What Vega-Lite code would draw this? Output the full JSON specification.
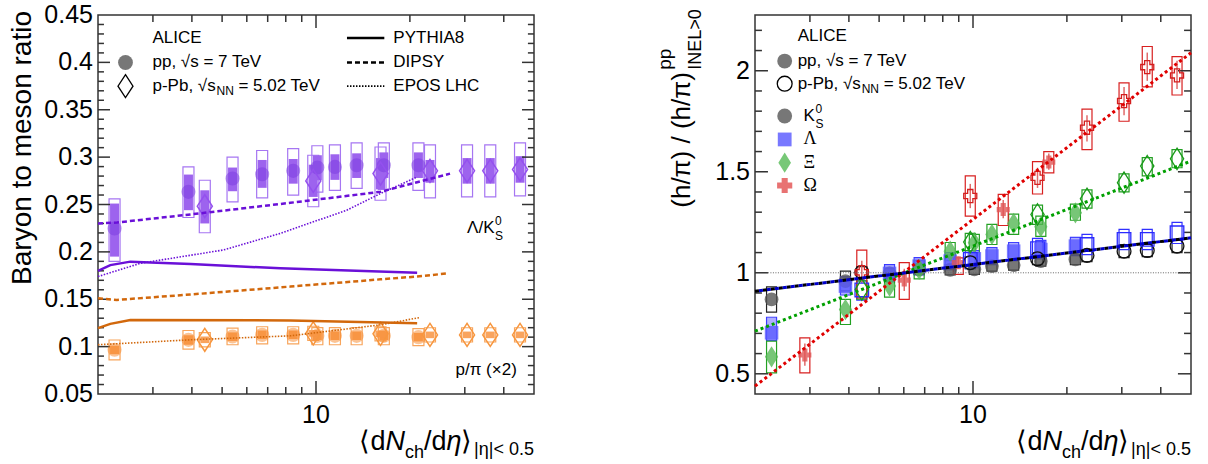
{
"$schema": "https://vega.github.io/schema/vega-lite/v6.json",
"background": "white",
"padding": {"left": 8, "top": 2, "right": 0, "bottom": 0},
"config": {"view": {"stroke": "#333333", "strokeWidth": 1.5}, "font": "Liberation Sans"},
"spacing": 221,
"bounds": "flush",
"resolve": {"scale": {"x": "independent", "y": "independent", "fill": "independent", "stroke": "independent", "shape": "independent", "size": "independent"}},
"datasets": {
"TX": [{"v":3},{"v":4},{"v":5},{"v":6},{"v":7},{"v":8},{"v":9},{"v":10},{"v":20},{"v":30},{"v":40}],
"TYL": [{"v":0.06},{"v":0.07},{"v":0.08},{"v":0.09},{"v":0.1},{"v":0.11},{"v":0.12},{"v":0.13},{"v":0.14},{"v":0.15},{"v":0.16},{"v":0.17},{"v":0.18},{"v":0.19},{"v":0.2},{"v":0.21},{"v":0.22},{"v":0.23},{"v":0.24},{"v":0.25},{"v":0.26},{"v":0.27},{"v":0.28},{"v":0.29},{"v":0.3},{"v":0.31},{"v":0.32},{"v":0.33},{"v":0.34},{"v":0.35},{"v":0.36},{"v":0.37},{"v":0.38},{"v":0.39},{"v":0.4},{"v":0.41},{"v":0.42},{"v":0.43},{"v":0.44}],
"TYR": [{"v":0.5},{"v":0.6},{"v":0.7},{"v":0.8},{"v":0.9},{"v":1},{"v":1.1},{"v":1.2},{"v":1.3},{"v":1.4},{"v":1.5},{"v":1.6},{"v":1.7},{"v":1.8},{"v":1.9},{"v":2},{"v":2.1},{"v":2.2}],
"YLAB_L": [{"v":0.05,"t":"0.05"},{"v":0.1,"t":"0.1"},{"v":0.15,"t":"0.15"},{"v":0.2,"t":"0.2"},{"v":0.25,"t":"0.25"},{"v":0.3,"t":"0.3"},{"v":0.35,"t":"0.35"},{"v":0.4,"t":"0.4"},{"v":0.45,"t":"0.45"}],
"YLAB_R": [{"v":0.5,"t":"0.5"},{"v":1,"t":"1"},{"v":1.5,"t":"1.5"},{"v":2,"t":"2"}],
"L": [
{"r":"LK","c":"pp","x":2.26,"y":0.2247,"ulo":0.195,"uhi":0.251,"tlo":0.19,"thi":0.256},
{"r":"LK","c":"pp","x":3.9,"y":0.2634,"ulo":0.244,"uhi":0.2816,"tlo":0.2363,"thi":0.2897},
{"r":"LK","c":"pp","x":5.4,"y":0.2774,"ulo":0.264,"uhi":0.289,"tlo":0.2528,"thi":0.3},
{"r":"LK","c":"pp","x":6.72,"y":0.2819,"ulo":0.2676,"uhi":0.297,"tlo":0.257,"thi":0.307},
{"r":"LK","c":"pp","x":8.45,"y":0.2855,"ulo":0.272,"uhi":0.298,"tlo":0.26,"thi":0.309},
{"r":"LK","c":"pp","x":10.1,"y":0.289,"ulo":0.2756,"uhi":0.302,"tlo":0.263,"thi":0.312},
{"r":"LK","c":"pp","x":11.5,"y":0.2897,"ulo":0.276,"uhi":0.303,"tlo":0.265,"thi":0.313},
{"r":"LK","c":"pp","x":13.5,"y":0.2914,"ulo":0.278,"uhi":0.304,"tlo":0.267,"thi":0.315},
{"r":"LK","c":"pp","x":16.5,"y":0.2914,"ulo":0.278,"uhi":0.305,"tlo":0.266,"thi":0.315},
{"r":"LK","c":"pp","x":21.3,"y":0.2914,"ulo":0.278,"uhi":0.305,"tlo":0.265,"thi":0.315},
{"r":"LK","c":"pPb","x":4.4,"y":0.2482,"ulo":0.23,"uhi":0.265,"tlo":0.2202,"thi":0.2756},
{"r":"LK","c":"pPb","x":9.8,"y":0.2749,"ulo":0.258,"uhi":0.292,"tlo":0.2476,"thi":0.302},
{"r":"LK","c":"pPb","x":16.1,"y":0.2826,"ulo":0.266,"uhi":0.299,"tlo":0.2545,"thi":0.3107},
{"r":"LK","c":"pPb","x":23.2,"y":0.2855,"ulo":0.273,"uhi":0.297,"tlo":0.257,"thi":0.313},
{"r":"LK","c":"pPb","x":30.5,"y":0.2855,"ulo":0.272,"uhi":0.299,"tlo":0.258,"thi":0.313},
{"r":"LK","c":"pPb","x":36.2,"y":0.2855,"ulo":0.272,"uhi":0.299,"tlo":0.258,"thi":0.313},
{"r":"LK","c":"pPb","x":45.1,"y":0.287,"ulo":0.273,"uhi":0.301,"tlo":0.259,"thi":0.315},
{"r":"ppi","c":"pp","x":2.26,"y":0.0967,"ulo":0.092,"uhi":0.101,"tlo":0.086,"thi":0.107},
{"r":"ppi","c":"pp","x":3.9,"y":0.1072,"ulo":0.102,"uhi":0.112,"tlo":0.0974,"thi":0.117},
{"r":"ppi","c":"pp","x":5.4,"y":0.1107,"ulo":0.106,"uhi":0.115,"tlo":0.102,"thi":0.1195},
{"r":"ppi","c":"pp","x":6.72,"y":0.1124,"ulo":0.108,"uhi":0.117,"tlo":0.103,"thi":0.121},
{"r":"ppi","c":"pp","x":8.45,"y":0.1124,"ulo":0.108,"uhi":0.117,"tlo":0.103,"thi":0.121},
{"r":"ppi","c":"pp","x":10.1,"y":0.1114,"ulo":0.107,"uhi":0.116,"tlo":0.102,"thi":0.12},
{"r":"ppi","c":"pp","x":11.5,"y":0.1114,"ulo":0.107,"uhi":0.116,"tlo":0.102,"thi":0.12},
{"r":"ppi","c":"pp","x":13.5,"y":0.1114,"ulo":0.107,"uhi":0.116,"tlo":0.102,"thi":0.12},
{"r":"ppi","c":"pp","x":16.5,"y":0.1114,"ulo":0.107,"uhi":0.116,"tlo":0.102,"thi":0.12},
{"r":"ppi","c":"pp","x":21.3,"y":0.11,"ulo":0.1055,"uhi":0.1145,"tlo":0.101,"thi":0.119},
{"r":"ppi","c":"pPb","x":4.4,"y":0.1072,"ulo":0.1037,"uhi":0.1107,"tlo":0.0997,"thi":0.1147},
{"r":"ppi","c":"pPb","x":9.8,"y":0.114,"ulo":0.1105,"uhi":0.1175,"tlo":0.1065,"thi":0.1215},
{"r":"ppi","c":"pPb","x":16.1,"y":0.1135,"ulo":0.11,"uhi":0.117,"tlo":0.106,"thi":0.121},
{"r":"ppi","c":"pPb","x":23.2,"y":0.1124,"ulo":0.1089,"uhi":0.1159,"tlo":0.1049,"thi":0.1199},
{"r":"ppi","c":"pPb","x":30.5,"y":0.1124,"ulo":0.1089,"uhi":0.1159,"tlo":0.1049,"thi":0.1199},
{"r":"ppi","c":"pPb","x":36.2,"y":0.1124,"ulo":0.1089,"uhi":0.1159,"tlo":0.1049,"thi":0.1199},
{"r":"ppi","c":"pPb","x":45.1,"y":0.1124,"ulo":0.1089,"uhi":0.1159,"tlo":0.1049,"thi":0.1199}
],
"M": [
{"r":"LK","m":"PYTHIA8","x":2.0,"y":0.18},{"r":"LK","m":"PYTHIA8","x":2.19,"y":0.186},{"r":"LK","m":"PYTHIA8","x":2.54,"y":0.1897},{"r":"LK","m":"PYTHIA8","x":3.96,"y":0.1872},{"r":"LK","m":"PYTHIA8","x":7.68,"y":0.1826},{"r":"LK","m":"PYTHIA8","x":21.1,"y":0.178},
{"r":"LK","m":"DIPSY","x":2.0,"y":0.23},{"r":"LK","m":"DIPSY","x":2.3,"y":0.231},{"r":"LK","m":"DIPSY","x":3.96,"y":0.2395},{"r":"LK","m":"DIPSY","x":8.28,"y":0.2518},{"r":"LK","m":"DIPSY","x":16.1,"y":0.2634},{"r":"LK","m":"DIPSY","x":21.1,"y":0.2735},{"r":"LK","m":"DIPSY","x":26.9,"y":0.2826},
{"r":"LK","m":"EPOS","x":2.0,"y":0.174},{"r":"LK","m":"EPOS","x":2.74,"y":0.188},{"r":"LK","m":"EPOS","x":5.05,"y":0.202},{"r":"LK","m":"EPOS","x":7.68,"y":0.2195},{"r":"LK","m":"EPOS","x":12.55,"y":0.244},{"r":"LK","m":"EPOS","x":16.1,"y":0.2616},{"r":"LK","m":"EPOS","x":21.1,"y":0.279},
{"r":"ppi","m":"PYTHIA8","x":2.0,"y":0.1195},{"r":"ppi","m":"PYTHIA8","x":2.19,"y":0.124},{"r":"ppi","m":"PYTHIA8","x":2.54,"y":0.1282},{"r":"ppi","m":"PYTHIA8","x":8.28,"y":0.1276},{"r":"ppi","m":"PYTHIA8","x":21.1,"y":0.1247},
{"r":"ppi","m":"DIPSY","x":2.0,"y":0.151},{"r":"ppi","m":"DIPSY","x":2.3,"y":0.1493},{"r":"ppi","m":"DIPSY","x":3.96,"y":0.155},{"r":"ppi","m":"DIPSY","x":8.28,"y":0.1634},{"r":"ppi","m":"DIPSY","x":16.1,"y":0.171},{"r":"ppi","m":"DIPSY","x":21.1,"y":0.174},{"r":"ppi","m":"DIPSY","x":26.6,"y":0.1774},
{"r":"ppi","m":"EPOS","x":2.0,"y":0.102},{"r":"ppi","m":"EPOS","x":3.96,"y":0.1072},{"r":"ppi","m":"EPOS","x":8.28,"y":0.1114},{"r":"ppi","m":"EPOS","x":16.1,"y":0.123},{"r":"ppi","m":"EPOS","x":21.5,"y":0.1307}
],
"R": [
{"s":"K","c":"pp","x":2.26,"y":0.868,"lo":0.805,"hi":0.93},
{"s":"K","c":"pp","x":3.9,"y":0.959,"lo":0.91,"hi":1.008},
{"s":"K","c":"pp","x":5.4,"y":0.997,"lo":0.972,"hi":1.022},
{"s":"K","c":"pp","x":6.72,"y":1.017,"lo":0.992,"hi":1.042},
{"s":"K","c":"pp","x":8.45,"y":1.015,"lo":0.99,"hi":1.04},
{"s":"K","c":"pp","x":10.1,"y":1.017,"lo":0.992,"hi":1.042},
{"s":"K","c":"pp","x":11.5,"y":1.033,"lo":1.008,"hi":1.058},
{"s":"K","c":"pp","x":13.5,"y":1.038,"lo":1.013,"hi":1.063},
{"s":"K","c":"pp","x":16.5,"y":1.058,"lo":1.033,"hi":1.083},
{"s":"K","c":"pp","x":21.3,"y":1.066,"lo":1.04,"hi":1.092},
{"s":"L","c":"pp","x":2.26,"y":0.703,"lo":0.665,"hi":0.78},
{"s":"L","c":"pp","x":3.9,"y":0.934,"lo":0.89,"hi":0.98},
{"s":"L","c":"pp","x":5.4,"y":0.997,"lo":0.955,"hi":1.04},
{"s":"L","c":"pp","x":6.72,"y":1.033,"lo":0.99,"hi":1.075},
{"s":"L","c":"pp","x":8.45,"y":1.058,"lo":1.015,"hi":1.1},
{"s":"L","c":"pp","x":10.1,"y":1.069,"lo":1.025,"hi":1.11},
{"s":"L","c":"pp","x":11.5,"y":1.083,"lo":1.04,"hi":1.125},
{"s":"L","c":"pp","x":13.5,"y":1.107,"lo":1.06,"hi":1.15},
{"s":"L","c":"pp","x":16.5,"y":1.115,"lo":1.07,"hi":1.16},
{"s":"L","c":"pp","x":21.3,"y":1.132,"lo":1.085,"hi":1.175},
{"s":"X","c":"pp","x":2.26,"y":0.584,"lo":0.505,"hi":0.662},
{"s":"X","c":"pp","x":3.9,"y":0.818,"lo":0.744,"hi":0.868},
{"s":"X","c":"pp","x":5.4,"y":0.934,"lo":0.88,"hi":0.96},
{"s":"X","c":"pp","x":6.72,"y":1.017,"lo":0.97,"hi":1.06},
{"s":"X","c":"pp","x":8.45,"y":1.107,"lo":1.06,"hi":1.15},
{"s":"X","c":"pp","x":10.1,"y":1.149,"lo":1.1,"hi":1.19},
{"s":"X","c":"pp","x":11.5,"y":1.19,"lo":1.14,"hi":1.24},
{"s":"X","c":"pp","x":13.5,"y":1.244,"lo":1.19,"hi":1.29},
{"s":"X","c":"pp","x":16.5,"y":1.228,"lo":1.18,"hi":1.28},
{"s":"X","c":"pp","x":21.3,"y":1.297,"lo":1.26,"hi":1.34},
{"s":"O","c":"pp","x":2.89,"y":0.593,"lo":0.505,"hi":0.678,"elo":0.54,"ehi":0.65},
{"s":"O","c":"pp","x":6.02,"y":0.964,"lo":0.868,"hi":1.05,"elo":0.91,"ehi":1.02},
{"s":"O","c":"pp","x":8.97,"y":1.05,"lo":0.992,"hi":1.074,"elo":1.02,"ehi":1.08},
{"s":"O","c":"pp","x":12.5,"y":1.313,"lo":1.234,"hi":1.388,"elo":1.27,"ehi":1.36},
{"s":"O","c":"pp","x":17.5,"y":1.548,"lo":1.495,"hi":1.6,"elo":1.51,"ehi":1.59},
{"s":"K","c":"pPb","x":4.4,"y":1.003,"lo":0.975,"hi":1.03},
{"s":"K","c":"pPb","x":9.8,"y":1.05,"lo":1.02,"hi":1.08},
{"s":"K","c":"pPb","x":16.1,"y":1.069,"lo":1.04,"hi":1.1},
{"s":"K","c":"pPb","x":23.2,"y":1.086,"lo":1.055,"hi":1.115},
{"s":"K","c":"pPb","x":30.5,"y":1.107,"lo":1.075,"hi":1.14},
{"s":"K","c":"pPb","x":36.2,"y":1.11,"lo":1.08,"hi":1.14},
{"s":"K","c":"pPb","x":45.1,"y":1.132,"lo":1.1,"hi":1.165},
{"s":"L","c":"pPb","x":4.4,"y":0.915,"lo":0.865,"hi":0.96},
{"s":"L","c":"pPb","x":9.8,"y":1.066,"lo":1.02,"hi":1.11},
{"s":"L","c":"pPb","x":16.1,"y":1.119,"lo":1.07,"hi":1.17},
{"s":"L","c":"pPb","x":23.2,"y":1.14,"lo":1.09,"hi":1.19},
{"s":"L","c":"pPb","x":30.5,"y":1.165,"lo":1.115,"hi":1.215},
{"s":"L","c":"pPb","x":36.2,"y":1.165,"lo":1.115,"hi":1.215},
{"s":"L","c":"pPb","x":45.1,"y":1.198,"lo":1.145,"hi":1.25},
{"s":"X","c":"pPb","x":4.4,"y":0.917,"lo":0.87,"hi":0.96},
{"s":"X","c":"pPb","x":9.8,"y":1.152,"lo":1.11,"hi":1.195},
{"s":"X","c":"pPb","x":16.1,"y":1.289,"lo":1.24,"hi":1.335},
{"s":"X","c":"pPb","x":23.2,"y":1.366,"lo":1.32,"hi":1.41},
{"s":"X","c":"pPb","x":30.5,"y":1.446,"lo":1.4,"hi":1.49},
{"s":"X","c":"pPb","x":36.2,"y":1.528,"lo":1.48,"hi":1.57},
{"s":"X","c":"pPb","x":45.1,"y":1.564,"lo":1.52,"hi":1.61},
{"s":"O","c":"pPb","x":4.4,"y":1.003,"lo":0.876,"hi":1.112,"elo":0.95,"ehi":1.06},
{"s":"O","c":"pPb","x":9.8,"y":1.38,"lo":1.28,"hi":1.48,"elo":1.32,"ehi":1.44},
{"s":"O","c":"pPb","x":16.1,"y":1.47,"lo":1.39,"hi":1.55,"elo":1.42,"ehi":1.52},
{"s":"O","c":"pPb","x":23.2,"y":1.718,"lo":1.61,"hi":1.81,"elo":1.65,"ehi":1.78},
{"s":"O","c":"pPb","x":30.5,"y":1.85,"lo":1.75,"hi":1.94,"elo":1.78,"ehi":1.92},
{"s":"O","c":"pPb","x":36.2,"y":2.018,"lo":1.92,"hi":2.12,"elo":1.95,"ehi":2.09},
{"s":"O","c":"pPb","x":45.1,"y":1.977,"lo":1.88,"hi":2.07,"elo":1.91,"ehi":2.05}
],
"F": [
{"f":"KL","x":2,"y":0.909},{"f":"KL","x":50,"y":1.173},
{"f":"X","x":2,"y":0.711},{"f":"X","x":50,"y":1.553},
{"f":"O","x":2,"y":0.439},{"f":"O","x":50,"y":2.089}
],
"U": [{"x":2.2,"y":1},{"x":50,"y":1}]
},
"hconcat": [
{
"width": 436, "height": 379,
"layer": [
{"data":{"name":"L"},"mark":{"type":"bar","width":11,"fillOpacity":0,"strokeWidth":1.2},
 "encoding":{
  "x":{"field":"x","type":"quantitative","scale":{"type":"log","domain":[2,50],"nice":false,"padding":0},"axis":null},
  "y":{"field":"tlo","type":"quantitative","scale":{"domain":[0.05,0.45],"nice":false,"zero":false},"axis":null},
  "y2":{"field":"thi"},
  "stroke":{"condition":{"test":"datum.r == 'LK'","value":"#a676f2"},"value":"#f8a55c"}}},
{"data":{"name":"L"},"mark":{"type":"bar","width":9},
 "encoding":{
  "x":{"field":"x","type":"quantitative","axis":null},
  "y":{"field":"ulo","type":"quantitative","axis":null},
  "y2":{"field":"uhi"},
  "fill":{"condition":{"test":"datum.r == 'LK'","value":"#9d63ee"},"value":"#f9a45e"}}},
{"data":{"name":"TX"},"transform":[{"filter":"datum.v != 10"}],"mark":{"type":"rule","stroke":"#333333","strokeWidth":1.5},
 "encoding":{"x":{"field":"v","type":"quantitative","axis":null},"y":{"datum":0.05,"type":"quantitative","axis":null},"y2":{"datum":0.0574}}},
{"data":{"name":"TX"},"transform":[{"filter":"datum.v == 10"}],"mark":{"type":"rule","stroke":"#333333","strokeWidth":1.5},
 "encoding":{"x":{"field":"v","type":"quantitative","axis":null},"y":{"datum":0.05,"type":"quantitative","axis":null},"y2":{"datum":0.0637}}},
{"data":{"name":"TX"},"transform":[{"filter":"datum.v != 10"}],"mark":{"type":"rule","stroke":"#333333","strokeWidth":1.5},
 "encoding":{"x":{"field":"v","type":"quantitative","axis":null},"y":{"datum":0.45,"type":"quantitative","axis":null},"y2":{"datum":0.4426}}},
{"data":{"name":"TX"},"transform":[{"filter":"datum.v == 10"}],"mark":{"type":"rule","stroke":"#333333","strokeWidth":1.5},
 "encoding":{"x":{"field":"v","type":"quantitative","axis":null},"y":{"datum":0.45,"type":"quantitative","axis":null},"y2":{"datum":0.4363}}},
{"data":{"name":"TYL"},"transform":[{"filter":"abs(datum.v*20 - round(datum.v*20)) > 0.001"}],"mark":{"type":"rule","stroke":"#333333","strokeWidth":1.5},
 "encoding":{"y":{"field":"v","type":"quantitative","axis":null},"x":{"datum":2,"type":"quantitative","axis":null},"x2":{"datum":2.09}}},
{"data":{"name":"TYL"},"transform":[{"filter":"abs(datum.v*20 - round(datum.v*20)) < 0.001"}],"mark":{"type":"rule","stroke":"#333333","strokeWidth":1.5},
 "encoding":{"y":{"field":"v","type":"quantitative","axis":null},"x":{"datum":2,"type":"quantitative","axis":null},"x2":{"datum":2.185}}},
{"data":{"name":"TYL"},"transform":[{"filter":"abs(datum.v*20 - round(datum.v*20)) > 0.001"}],"mark":{"type":"rule","stroke":"#333333","strokeWidth":1.5},
 "encoding":{"y":{"field":"v","type":"quantitative","axis":null},"x":{"datum":50,"type":"quantitative","axis":null},"x2":{"datum":47.8}}},
{"data":{"name":"TYL"},"transform":[{"filter":"abs(datum.v*20 - round(datum.v*20)) < 0.001"}],"mark":{"type":"rule","stroke":"#333333","strokeWidth":1.5},
 "encoding":{"y":{"field":"v","type":"quantitative","axis":null},"x":{"datum":50,"type":"quantitative","axis":null},"x2":{"datum":45.76}}},
{"data":{"name":"YLAB_L"},"mark":{"type":"text","fontSize":25,"align":"right","baseline":"middle","dx":-5},
 "encoding":{"y":{"field":"v","type":"quantitative","axis":null},"x":{"datum":2,"type":"quantitative","axis":null},"text":{"field":"t"}}},
{"data":{"values":[{"t":"10"}]},"mark":{"type":"text","fontSize":25,"align":"center","baseline":"top","dy":9},
 "encoding":{"x":{"datum":10,"type":"quantitative","axis":null},"y":{"datum":0.05,"type":"quantitative","axis":null},"text":{"field":"t"}}},
{"data":{"name":"L"},"transform":[{"filter":"datum.c == 'pp'"}],
 "mark":{"type":"point","shape":"circle","filled":true,"size":200,"opacity":0.5,"strokeWidth":0},
 "encoding":{"x":{"field":"x","type":"quantitative","axis":null},"y":{"field":"y","type":"quantitative","axis":null},
  "fill":{"condition":{"test":"datum.r == 'LK'","value":"#7a3ae0"},"value":"#f7872a"}}},
{"data":{"name":"L"},"transform":[{"filter":"datum.c == 'pPb'"}],
 "mark":{"type":"point","shape":"M0,-1.45L0.95,0L0,1.45L-0.95,0Z","filled":false,"size":250,"strokeWidth":1.5,"opacity":1},
 "encoding":{"x":{"field":"x","type":"quantitative","axis":null},"y":{"field":"y","type":"quantitative","axis":null},
  "stroke":{"condition":{"test":"datum.r == 'LK'","value":"#9450ee"},"value":"#f7963e"}}},
{"data":{"name":"M"},"transform":[{"filter":"datum.m == 'PYTHIA8'"}],
 "mark":{"type":"line","strokeWidth":2.5},
 "encoding":{"x":{"field":"x","type":"quantitative","axis":null},"y":{"field":"y","type":"quantitative","axis":null},"detail":{"field":"r"},
  "stroke":{"condition":{"test":"datum.r == 'LK'","value":"#6a10d8"},"value":"#d2680c"}}},
{"data":{"name":"M"},"transform":[{"filter":"datum.m == 'DIPSY'"}],
 "mark":{"type":"line","strokeWidth":2.5,"strokeDash":[5,3]},
 "encoding":{"x":{"field":"x","type":"quantitative","axis":null},"y":{"field":"y","type":"quantitative","axis":null},"detail":{"field":"r"},
  "stroke":{"condition":{"test":"datum.r == 'LK'","value":"#6a10d8"},"value":"#d2680c"}}},
{"data":{"name":"M"},"transform":[{"filter":"datum.m == 'EPOS'"}],
 "mark":{"type":"line","strokeWidth":1.6,"strokeDash":[1.5,1.5]},
 "encoding":{"x":{"field":"x","type":"quantitative","axis":null},"y":{"field":"y","type":"quantitative","axis":null},"detail":{"field":"r"},
  "stroke":{"condition":{"test":"datum.r == 'LK'","value":"#6a10d8"},"value":"#d2680c"}}},
{"data":{"values":[{}]},
 "layer":[
  {"mark":{"type":"text","text":"ALICE","fontSize":17,"align":"left","baseline":"middle"},"encoding":{"x":{"datum":2.99,"type":"quantitative","axis":null},"y":{"datum":0.4257,"type":"quantitative","axis":null}}},
  {"mark":{"type":"text","text":"pp, √s = 7 TeV","fontSize":17,"align":"left","baseline":"middle"},"encoding":{"x":{"datum":2.99,"type":"quantitative","axis":null},"y":{"datum":0.3999,"type":"quantitative","axis":null}}},
  {"mark":{"type":"text","text":"p-Pb, √s","fontSize":17,"align":"left","baseline":"middle"},"encoding":{"x":{"datum":2.99,"type":"quantitative","axis":null},"y":{"datum":0.3749,"type":"quantitative","axis":null}}},
  {"mark":{"type":"text","text":"NN","fontSize":12,"align":"left","baseline":"middle","dx":64,"dy":5},"encoding":{"x":{"datum":2.99,"type":"quantitative","axis":null},"y":{"datum":0.3749,"type":"quantitative","axis":null}}},
  {"mark":{"type":"text","text":"= 5.02 TeV","fontSize":17,"align":"left","baseline":"middle","dx":86},"encoding":{"x":{"datum":2.99,"type":"quantitative","axis":null},"y":{"datum":0.3749,"type":"quantitative","axis":null}}},
  {"mark":{"type":"text","text":"PYTHIA8","fontSize":17,"align":"left","baseline":"middle"},"encoding":{"x":{"datum":17.7,"type":"quantitative","axis":null},"y":{"datum":0.4257,"type":"quantitative","axis":null}}},
  {"mark":{"type":"text","text":"DIPSY","fontSize":17,"align":"left","baseline":"middle"},"encoding":{"x":{"datum":17.7,"type":"quantitative","axis":null},"y":{"datum":0.3999,"type":"quantitative","axis":null}}},
  {"mark":{"type":"text","text":"EPOS LHC","fontSize":17,"align":"left","baseline":"middle"},"encoding":{"x":{"datum":17.7,"type":"quantitative","axis":null},"y":{"datum":0.3749,"type":"quantitative","axis":null}}},
  {"mark":{"type":"rule","stroke":"#000000","strokeWidth":2.5},"encoding":{"x":{"datum":12.57,"type":"quantitative","axis":null},"x2":{"datum":16.56},"y":{"datum":0.4257,"type":"quantitative","axis":null}}},
  {"mark":{"type":"rule","stroke":"#000000","strokeWidth":2.5,"strokeDash":[5,3]},"encoding":{"x":{"datum":12.57,"type":"quantitative","axis":null},"x2":{"datum":16.56},"y":{"datum":0.3999,"type":"quantitative","axis":null}}},
  {"mark":{"type":"rule","stroke":"#000000","strokeWidth":1.6,"strokeDash":[1.5,1.5]},"encoding":{"x":{"datum":12.57,"type":"quantitative","axis":null},"x2":{"datum":16.56},"y":{"datum":0.3749,"type":"quantitative","axis":null}}},
  {"mark":{"type":"point","shape":"circle","filled":true,"size":220,"fill":"#777777","strokeWidth":0,"opacity":1},"encoding":{"x":{"datum":2.45,"type":"quantitative","axis":null},"y":{"datum":0.3999,"type":"quantitative","axis":null}}},
  {"mark":{"type":"point","shape":"M0,-1.45L0.95,0L0,1.45L-0.95,0Z","filled":false,"size":250,"stroke":"#000000","strokeWidth":1.3,"opacity":1},"encoding":{"x":{"datum":2.45,"type":"quantitative","axis":null},"y":{"datum":0.3749,"type":"quantitative","axis":null}}},
  {"mark":{"type":"text","text":"Λ/K","fontSize":17,"align":"left","baseline":"middle"},"encoding":{"x":{"datum":30.5,"type":"quantitative","axis":null},"y":{"datum":0.2252,"type":"quantitative","axis":null}}},
  {"mark":{"type":"text","text":"0","fontSize":12,"align":"left","baseline":"middle","dx":28,"dy":-7},"encoding":{"x":{"datum":30.5,"type":"quantitative","axis":null},"y":{"datum":0.2252,"type":"quantitative","axis":null}}},
  {"mark":{"type":"text","text":"S","fontSize":12,"align":"left","baseline":"middle","dx":28,"dy":8},"encoding":{"x":{"datum":30.5,"type":"quantitative","axis":null},"y":{"datum":0.2252,"type":"quantitative","axis":null}}},
  {"mark":{"type":"text","text":"p/π (×2)","fontSize":17,"align":"left","baseline":"middle"},"encoding":{"x":{"datum":28.0,"type":"quantitative","axis":null},"y":{"datum":0.0756,"type":"quantitative","axis":null}}},
  {"mark":{"type":"text","text":"Baryon to meson ratio","fontSize":28,"align":"right","baseline":"alphabetic","angle":270},"encoding":{"x":{"datum":1.22,"type":"quantitative","axis":null},"y":{"datum":0.4542,"type":"quantitative","axis":null}}},
  {"mark":{"type":"text","text":"⟨d","fontSize":27,"align":"right","baseline":"alphabetic","dx":-148.5,"dy":56},"encoding":{"x":{"datum":50,"type":"quantitative","axis":null},"y":{"datum":0.05,"type":"quantitative","axis":null}}},
  {"mark":{"type":"text","text":"N","fontSize":27,"fontStyle":"italic","align":"right","baseline":"alphabetic","dx":-129,"dy":56},"encoding":{"x":{"datum":50,"type":"quantitative","axis":null},"y":{"datum":0.05,"type":"quantitative","axis":null}}},
  {"mark":{"type":"text","text":"ch","fontSize":18,"align":"right","baseline":"alphabetic","dx":-110,"dy":64},"encoding":{"x":{"datum":50,"type":"quantitative","axis":null},"y":{"datum":0.05,"type":"quantitative","axis":null}}},
  {"mark":{"type":"text","text":"/d","fontSize":27,"align":"right","baseline":"alphabetic","dx":-87.5,"dy":56},"encoding":{"x":{"datum":50,"type":"quantitative","axis":null},"y":{"datum":0.05,"type":"quantitative","axis":null}}},
  {"mark":{"type":"text","text":"η","fontSize":27,"fontStyle":"italic","align":"right","baseline":"alphabetic","dx":-72.5,"dy":56},"encoding":{"x":{"datum":50,"type":"quantitative","axis":null},"y":{"datum":0.05,"type":"quantitative","axis":null}}},
  {"mark":{"type":"text","text":"⟩","fontSize":27,"align":"right","baseline":"alphabetic","dx":-62,"dy":56},"encoding":{"x":{"datum":50,"type":"quantitative","axis":null},"y":{"datum":0.05,"type":"quantitative","axis":null}}},
  {"mark":{"type":"text","text":"|η|< 0.5","fontSize":18,"align":"right","baseline":"alphabetic","dx":0,"dy":61},"encoding":{"x":{"datum":50,"type":"quantitative","axis":null},"y":{"datum":0.05,"type":"quantitative","axis":null}}}
 ]}
]
},
{
"width": 436, "height": 379,
"layer": [
{"data":{"name":"R"},"mark":{"type":"bar","width":10,"fillOpacity":0,"strokeWidth":1.2},
 "encoding":{
  "x":{"field":"x","type":"quantitative","scale":{"type":"log","domain":[2,50],"nice":false,"padding":0},"axis":null},
  "y":{"field":"lo","type":"quantitative","scale":{"domain":[0.4,2.276],"nice":false,"zero":false},"axis":null},
  "y2":{"field":"hi"},
  "stroke":{"condition":[{"test":"datum.s == 'K'","value":"#222222"},{"test":"datum.s == 'L'","value":"#3030ff"},{"test":"datum.s == 'X'","value":"#22a022"}],"value":"#d82020"}}},
{"data":{"name":"R"},"transform":[{"filter":"datum.c == 'pp' && datum.s == 'L'"}],"mark":{"type":"bar","width":10,"fill":"#6e6eff","opacity":0.55},
 "encoding":{
  "x":{"field":"x","type":"quantitative","axis":null},
  "y":{"field":"lo","type":"quantitative","axis":null},
  "y2":{"field":"hi"}}},
{"data":{"name":"TX"},"transform":[{"filter":"datum.v != 10"}],"mark":{"type":"rule","stroke":"#333333","strokeWidth":1.5},
 "encoding":{"x":{"field":"v","type":"quantitative","axis":null},"y":{"datum":0.4,"type":"quantitative","axis":null},"y2":{"datum":0.4347}}},
{"data":{"name":"TX"},"transform":[{"filter":"datum.v == 10"}],"mark":{"type":"rule","stroke":"#333333","strokeWidth":1.5},
 "encoding":{"x":{"field":"v","type":"quantitative","axis":null},"y":{"datum":0.4,"type":"quantitative","axis":null},"y2":{"datum":0.4644}}},
{"data":{"name":"TX"},"transform":[{"filter":"datum.v != 10"}],"mark":{"type":"rule","stroke":"#333333","strokeWidth":1.5},
 "encoding":{"x":{"field":"v","type":"quantitative","axis":null},"y":{"datum":2.276,"type":"quantitative","axis":null},"y2":{"datum":2.2413}}},
{"data":{"name":"TX"},"transform":[{"filter":"datum.v == 10"}],"mark":{"type":"rule","stroke":"#333333","strokeWidth":1.5},
 "encoding":{"x":{"field":"v","type":"quantitative","axis":null},"y":{"datum":2.276,"type":"quantitative","axis":null},"y2":{"datum":2.2116}}},
{"data":{"name":"TYR"},"transform":[{"filter":"abs(datum.v*2 - round(datum.v*2)) > 0.001"}],"mark":{"type":"rule","stroke":"#333333","strokeWidth":1.5},
 "encoding":{"y":{"field":"v","type":"quantitative","axis":null},"x":{"datum":2,"type":"quantitative","axis":null},"x2":{"datum":2.105}}},
{"data":{"name":"TYR"},"transform":[{"filter":"abs(datum.v*2 - round(datum.v*2)) < 0.001"}],"mark":{"type":"rule","stroke":"#333333","strokeWidth":1.5},
 "encoding":{"y":{"field":"v","type":"quantitative","axis":null},"x":{"datum":2,"type":"quantitative","axis":null},"x2":{"datum":2.201}}},
{"data":{"name":"TYR"},"transform":[{"filter":"abs(datum.v*2 - round(datum.v*2)) > 0.001"}],"mark":{"type":"rule","stroke":"#333333","strokeWidth":1.5},
 "encoding":{"y":{"field":"v","type":"quantitative","axis":null},"x":{"datum":50,"type":"quantitative","axis":null},"x2":{"datum":47.5}}},
{"data":{"name":"TYR"},"transform":[{"filter":"abs(datum.v*2 - round(datum.v*2)) < 0.001"}],"mark":{"type":"rule","stroke":"#333333","strokeWidth":1.5},
 "encoding":{"y":{"field":"v","type":"quantitative","axis":null},"x":{"datum":50,"type":"quantitative","axis":null},"x2":{"datum":45.4}}},
{"data":{"name":"YLAB_R"},"mark":{"type":"text","fontSize":25,"align":"right","baseline":"middle","dx":-5},
 "encoding":{"y":{"field":"v","type":"quantitative","axis":null},"x":{"datum":2,"type":"quantitative","axis":null},"text":{"field":"t"}}},
{"data":{"values":[{"t":"10"}]},"mark":{"type":"text","fontSize":25,"align":"center","baseline":"top","dy":9},
 "encoding":{"x":{"datum":10,"type":"quantitative","axis":null},"y":{"datum":0.4,"type":"quantitative","axis":null},"text":{"field":"t"}}},
{"data":{"name":"R"},"transform":[{"filter":"datum.s == 'O'"}],"mark":{"type":"rule","strokeWidth":1.5,"stroke":"#e06a6a"},
 "encoding":{"x":{"field":"x","type":"quantitative","axis":null},"y":{"field":"elo","type":"quantitative","axis":null},"y2":{"field":"ehi"}}},
{"data":{"name":"R"},"transform":[{"filter":"datum.c == 'pp'"}],
 "mark":{"type":"point","filled":true,"opacity":0.8,"strokeWidth":0},
 "encoding":{"x":{"field":"x","type":"quantitative","axis":null},"y":{"field":"y","type":"quantitative","axis":null},
  "shape":{"field":"s","type":"nominal","scale":{"domain":["K","L","X","O"],"range":["circle","square","M0,-1.6L1,0L0,1.6L-1,0Z","cross"]},"legend":null},
  "size":{"field":"s","type":"nominal","scale":{"domain":["K","L","X","O"],"range":[190,170,144,220]},"legend":null},
  "fill":{"field":"s","type":"nominal","scale":{"domain":["K","L","X","O"],"range":["#555555","#5a5aff","#55b855","#e05555"]},"legend":null}}},
{"data":{"name":"R"},"transform":[{"filter":"datum.c == 'pPb'"}],
 "mark":{"type":"point","filled":false,"opacity":1,"strokeWidth":1.3},
 "encoding":{"x":{"field":"x","type":"quantitative","axis":null},"y":{"field":"y","type":"quantitative","axis":null},
  "shape":{"field":"s","type":"nominal","scale":{"domain":["K","L","X","O"],"range":["circle","square","M0,-1.6L1,0L0,1.6L-1,0Z","cross"]},"legend":null},
  "size":{"field":"s","type":"nominal","scale":{"domain":["K","L","X","O"],"range":[190,170,144,220]},"legend":null},
  "stroke":{"field":"s","type":"nominal","scale":{"domain":["K","L","X","O"],"range":["#111111","#2a2aff","#1a9a1a","#d41e1e"]},"legend":null}}},
{"data":{"name":"U"},"mark":{"type":"line","stroke":"#666666","strokeWidth":1,"strokeDash":[1,1.5]},
 "encoding":{"x":{"field":"x","type":"quantitative","axis":null},"y":{"field":"y","type":"quantitative","axis":null}}},
{"data":{"name":"F"},"transform":[{"filter":"datum.f != 'KL'"}],"mark":{"type":"line","strokeWidth":3,"strokeDash":[3,3]},
 "encoding":{"x":{"field":"x","type":"quantitative","axis":null},"y":{"field":"y","type":"quantitative","axis":null},"detail":{"field":"f"},
  "stroke":{"condition":{"test":"datum.f == 'X'","value":"#00a000"},"value":"#e00000"}}},
{"data":{"name":"F"},"transform":[{"filter":"datum.f == 'KL'"}],"mark":{"type":"line","strokeWidth":3,"strokeDash":[4,4],"stroke":"#000000"},
 "encoding":{"x":{"field":"x","type":"quantitative","axis":null},"y":{"field":"y","type":"quantitative","axis":null}}},
{"data":{"name":"F"},"transform":[{"filter":"datum.f == 'KL'"}],"mark":{"type":"line","strokeWidth":3,"strokeDash":[4,4],"strokeDashOffset":4,"stroke":"#0000cc"},
 "encoding":{"x":{"field":"x","type":"quantitative","axis":null},"y":{"field":"y","type":"quantitative","axis":null}}},
{"data":{"values":[{}]},
 "layer":[
  {"mark":{"type":"text","text":"ALICE","fontSize":17,"align":"left","baseline":"middle"},"encoding":{"x":{"datum":2.74,"type":"quantitative","axis":null},"y":{"datum":2.173,"type":"quantitative","axis":null}}},
  {"mark":{"type":"text","text":"pp, √s = 7 TeV","fontSize":17,"align":"left","baseline":"middle"},"encoding":{"x":{"datum":2.74,"type":"quantitative","axis":null},"y":{"datum":2.048,"type":"quantitative","axis":null}}},
  {"mark":{"type":"text","text":"p-Pb, √s","fontSize":17,"align":"left","baseline":"middle"},"encoding":{"x":{"datum":2.74,"type":"quantitative","axis":null},"y":{"datum":1.936,"type":"quantitative","axis":null}}},
  {"mark":{"type":"text","text":"NN","fontSize":12,"align":"left","baseline":"middle","dx":64,"dy":5},"encoding":{"x":{"datum":2.74,"type":"quantitative","axis":null},"y":{"datum":1.936,"type":"quantitative","axis":null}}},
  {"mark":{"type":"text","text":"= 5.02 TeV","fontSize":17,"align":"left","baseline":"middle","dx":86},"encoding":{"x":{"datum":2.74,"type":"quantitative","axis":null},"y":{"datum":1.936,"type":"quantitative","axis":null}}},
  {"mark":{"type":"point","shape":"circle","filled":true,"size":220,"fill":"#777777","strokeWidth":0,"opacity":1},"encoding":{"x":{"datum":2.49,"type":"quantitative","axis":null},"y":{"datum":2.048,"type":"quantitative","axis":null}}},
  {"mark":{"type":"point","shape":"circle","filled":false,"size":220,"stroke":"#000000","strokeWidth":1.3,"opacity":1},"encoding":{"x":{"datum":2.49,"type":"quantitative","axis":null},"y":{"datum":1.936,"type":"quantitative","axis":null}}},
  {"mark":{"type":"point","shape":"circle","filled":true,"size":220,"fill":"#777777","strokeWidth":0,"opacity":1},"encoding":{"x":{"datum":2.49,"type":"quantitative","axis":null},"y":{"datum":1.776,"type":"quantitative","axis":null}}},
  {"mark":{"type":"point","shape":"square","filled":true,"size":190,"fill":"#7878ff","strokeWidth":0,"opacity":1},"encoding":{"x":{"datum":2.49,"type":"quantitative","axis":null},"y":{"datum":1.66,"type":"quantitative","axis":null}}},
  {"mark":{"type":"point","shape":"M0,-1.6L1,0L0,1.6L-1,0Z","filled":true,"size":160,"fill":"#77c877","strokeWidth":0,"opacity":1},"encoding":{"x":{"datum":2.49,"type":"quantitative","axis":null},"y":{"datum":1.545,"type":"quantitative","axis":null}}},
  {"mark":{"type":"point","shape":"cross","filled":true,"size":230,"fill":"#e87272","strokeWidth":0,"opacity":1},"encoding":{"x":{"datum":2.49,"type":"quantitative","axis":null},"y":{"datum":1.432,"type":"quantitative","axis":null}}},
  {"mark":{"type":"text","text":"K","fontSize":17,"align":"left","baseline":"middle"},"encoding":{"x":{"datum":2.86,"type":"quantitative","axis":null},"y":{"datum":1.776,"type":"quantitative","axis":null}}},
  {"mark":{"type":"text","text":"0","fontSize":12,"align":"left","baseline":"middle","dx":12,"dy":-7},"encoding":{"x":{"datum":2.86,"type":"quantitative","axis":null},"y":{"datum":1.776,"type":"quantitative","axis":null}}},
  {"mark":{"type":"text","text":"S","fontSize":12,"align":"left","baseline":"middle","dx":12,"dy":8},"encoding":{"x":{"datum":2.86,"type":"quantitative","axis":null},"y":{"datum":1.776,"type":"quantitative","axis":null}}},
  {"mark":{"type":"text","text":"Λ","fontSize":18,"font":"Liberation Serif","align":"left","baseline":"middle"},"encoding":{"x":{"datum":2.86,"type":"quantitative","axis":null},"y":{"datum":1.66,"type":"quantitative","axis":null}}},
  {"mark":{"type":"text","text":"Ξ","fontSize":18,"font":"Liberation Serif","align":"left","baseline":"middle"},"encoding":{"x":{"datum":2.86,"type":"quantitative","axis":null},"y":{"datum":1.545,"type":"quantitative","axis":null}}},
  {"mark":{"type":"text","text":"Ω","fontSize":18,"font":"Liberation Serif","align":"left","baseline":"middle"},"encoding":{"x":{"datum":2.86,"type":"quantitative","axis":null},"y":{"datum":1.432,"type":"quantitative","axis":null}}},
  {"mark":{"type":"text","text":"(h/π) / (h/π)","fontSize":26,"align":"left","baseline":"alphabetic","angle":270},"encoding":{"x":{"datum":1.238,"type":"quantitative","axis":null},"y":{"datum":1.322,"type":"quantitative","axis":null}}},
  {"mark":{"type":"text","text":"pp","fontSize":19,"align":"left","baseline":"alphabetic","angle":270},"encoding":{"x":{"datum":1.076,"type":"quantitative","axis":null},"y":{"datum":2.005,"type":"quantitative","axis":null}}},
  {"mark":{"type":"text","text":"INEL>0","fontSize":18,"align":"left","baseline":"alphabetic","angle":270},"encoding":{"x":{"datum":1.338,"type":"quantitative","axis":null},"y":{"datum":2.005,"type":"quantitative","axis":null}}},
  {"mark":{"type":"text","text":"⟨d","fontSize":27,"align":"right","baseline":"alphabetic","dx":-148.5,"dy":56},"encoding":{"x":{"datum":50,"type":"quantitative","axis":null},"y":{"datum":0.4,"type":"quantitative","axis":null}}},
  {"mark":{"type":"text","text":"N","fontSize":27,"fontStyle":"italic","align":"right","baseline":"alphabetic","dx":-129,"dy":56},"encoding":{"x":{"datum":50,"type":"quantitative","axis":null},"y":{"datum":0.4,"type":"quantitative","axis":null}}},
  {"mark":{"type":"text","text":"ch","fontSize":18,"align":"right","baseline":"alphabetic","dx":-110,"dy":64},"encoding":{"x":{"datum":50,"type":"quantitative","axis":null},"y":{"datum":0.4,"type":"quantitative","axis":null}}},
  {"mark":{"type":"text","text":"/d","fontSize":27,"align":"right","baseline":"alphabetic","dx":-87.5,"dy":56},"encoding":{"x":{"datum":50,"type":"quantitative","axis":null},"y":{"datum":0.4,"type":"quantitative","axis":null}}},
  {"mark":{"type":"text","text":"η","fontSize":27,"fontStyle":"italic","align":"right","baseline":"alphabetic","dx":-72.5,"dy":56},"encoding":{"x":{"datum":50,"type":"quantitative","axis":null},"y":{"datum":0.4,"type":"quantitative","axis":null}}},
  {"mark":{"type":"text","text":"⟩","fontSize":27,"align":"right","baseline":"alphabetic","dx":-62,"dy":56},"encoding":{"x":{"datum":50,"type":"quantitative","axis":null},"y":{"datum":0.4,"type":"quantitative","axis":null}}},
  {"mark":{"type":"text","text":"|η|< 0.5","fontSize":18,"align":"right","baseline":"alphabetic","dx":0,"dy":61},"encoding":{"x":{"datum":50,"type":"quantitative","axis":null},"y":{"datum":0.4,"type":"quantitative","axis":null}}}
 ]}
]
}
]
}
